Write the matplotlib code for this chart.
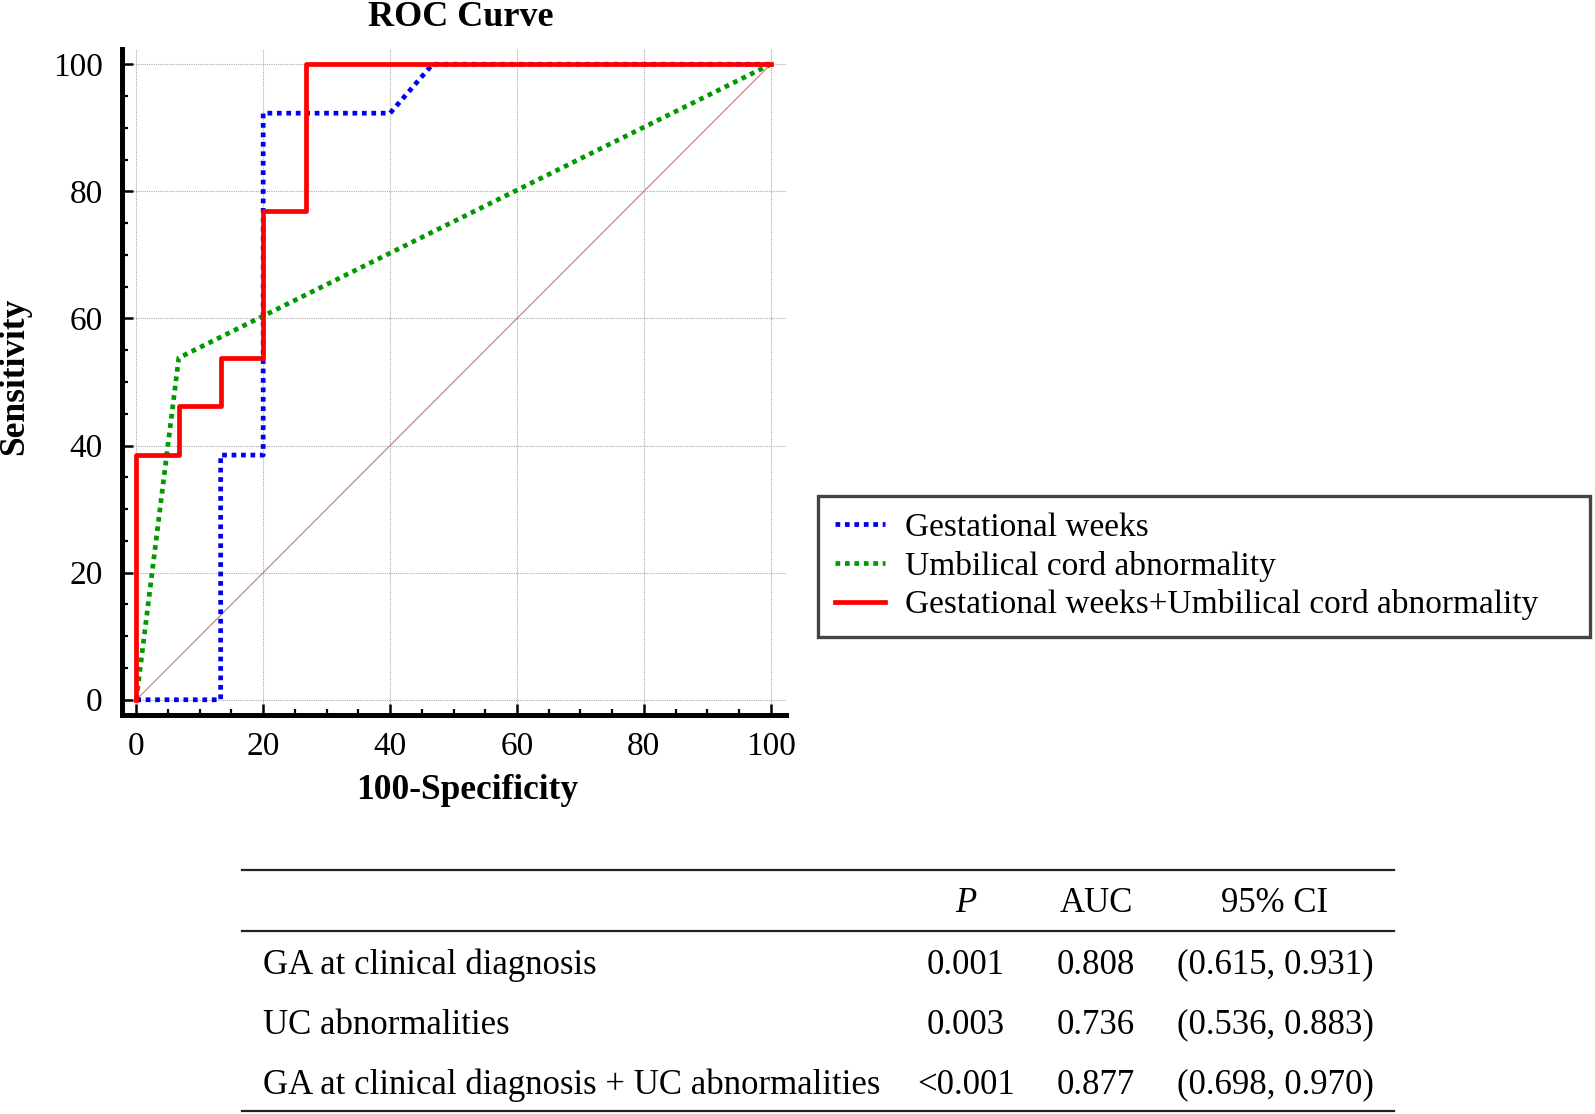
import matplotlib
matplotlib.use("Agg")
import matplotlib.pyplot as plt
from matplotlib.ticker import MultipleLocator

plt.rcParams['font.family'] = ['Liberation Serif', 'DejaVu Serif']

# ROC points (100-specificity, sensitivity)
fpr_ga = [0, 13.3, 13.3, 20, 20, 40, 46.7, 100]
sens_ga = [0, 0, 38.5, 38.5, 92.3, 92.3, 100, 100]
fpr_uc = [0, 6.7, 100]
sens_uc = [0, 53.8, 100]
fpr_comb = [0, 0, 6.7, 6.7, 13.3, 13.3, 20, 20, 26.7, 26.7, 100]
sens_comb = [0, 38.5, 38.5, 46.2, 46.2, 53.8, 53.8, 76.9, 76.9, 100, 100]
legend_labels = ["Gestational weeks", "Umbilical cord abnormality",
                 "Gestational weeks+Umbilical cord abnormality"]

# summary table
row_names = ["GA at clinical diagnosis", "UC abnormalities",
             "GA at clinical diagnosis + UC abnormalities"]
p_vals = ["0.001", "0.003", "<0.001"]
auc_vals = ["0.808", "0.736", "0.877"]
ci_vals = ["(0.615, 0.931)", "(0.536, 0.883)", "(0.698, 0.970)"]

W, H = 1595, 1114
fig = plt.figure(figsize=(W / 100, H / 100), dpi=100)
ax = fig.add_axes([122 / W, 1 - 715 / H, (786 - 122) / W, (715 - 49) / H])

ax.plot([0, 100], [0, 100], color="#c07a7a", lw=0.8, zorder=2)
l1, = ax.plot(fpr_ga, sens_ga, color="#0000ee", lw=3.4, ls=(0, (1, 1)), zorder=3)
l2, = ax.plot(fpr_uc, sens_uc, color="#009900", lw=3.4, ls=(0, (1, 1)), zorder=3)
l3, = ax.plot(fpr_comb, sens_comb, color="#ff0000", lw=3.4, zorder=4)

ax.set_xlim(-2.25, 102.4)
ax.set_ylim(-2.4, 102.4)
ax.xaxis.set_major_locator(MultipleLocator(20))
ax.yaxis.set_major_locator(MultipleLocator(20))
ax.xaxis.set_minor_locator(MultipleLocator(5))
ax.yaxis.set_minor_locator(MultipleLocator(5))
ax.grid(True, which="major", color="#aaaaaa", lw=0.8, ls=(0, (1, 1)))
for s in ["top", "right"]:
    ax.spines[s].set_visible(False)
for s in ["left", "bottom"]:
    ax.spines[s].set_linewidth(3.6)
ax.tick_params(which="major", direction="in", length=8, width=1.8, labelsize=24)
ax.tick_params(which="minor", direction="in", length=4, width=1.6)
ax.tick_params(axis="x", pad=12)
ax.tick_params(axis="y", pad=14)

ax.set_xlabel("100-Specificity", fontsize=25.5, fontweight="bold")
ax.set_ylabel("Sensitivity", fontsize=25.5, fontweight="bold")
ax.xaxis.set_label_coords(0.52, -0.088)
ax.yaxis.set_label_coords(-0.137, 0.508)
fig.text(461 / W, 1 - 17 / H, "ROC Curve", fontsize=26, fontweight="bold",
         ha="center", va="center")

leg = fig.legend([l1, l2, l3], legend_labels, loc="upper left",
                 bbox_to_anchor=(818 / W, 1 - 496 / H, (1590 - 818) / W, 0),
                 mode="expand", fontsize=24, frameon=True, fancybox=False,
                 edgecolor="#444444", framealpha=1, borderpad=0.5,
                 labelspacing=0.23, handlelength=1.5, handletextpad=0.6,
                 borderaxespad=0)
leg.get_frame().set_linewidth(2.4)

# table drawn in pixel coordinates on an overlay axes
tab = fig.add_axes([0, 0, 1, 1])
tab.set_xlim(0, W)
tab.set_ylim(H, 0)
tab.axis("off")
for yy in [870, 931, 1111]:
    tab.plot([242, 1394], [yy, yy], color="#222222", lw=1.6)
fs = 25
tab.text(966, 903, "P", fontsize=fs, style="italic", ha="center", va="center")
tab.text(1096, 903, "AUC", fontsize=fs, ha="center", va="center")
tab.text(1275, 903, "95% CI", fontsize=fs, ha="center", va="center")
for i, name in enumerate(row_names):
    yy = 965 + 60 * i
    tab.text(263, yy, name, fontsize=fs, ha="left", va="center")
    tab.text(966, yy, p_vals[i], fontsize=fs, ha="center", va="center")
    tab.text(1096, yy, auc_vals[i], fontsize=fs, ha="center", va="center")
    tab.text(1275, yy, ci_vals[i], fontsize=fs, ha="center", va="center")

fig.savefig("out.png", dpi=100)
